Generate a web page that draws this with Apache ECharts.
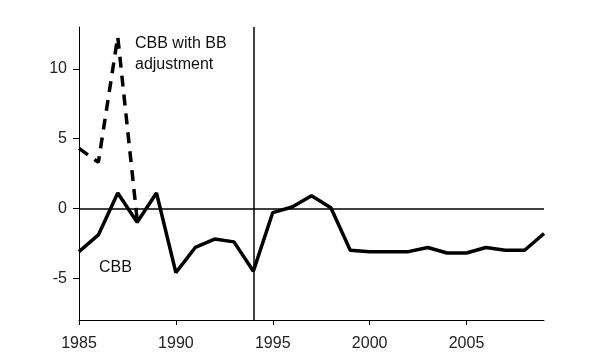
<!DOCTYPE html>
<html>
<head>
<meta charset="utf-8">
<script src="https://cdn.jsdelivr.net/npm/echarts@6/dist/echarts.min.js"></script>
<style>html,body{margin:0;padding:0;background:#fff;}#c{width:600px;height:360px;}</style>
</head>
<body>
<div id="c"></div>
<script>
const years = [1985,1986,1987,1988,1989,1990,1991,1992,1993,1994,1995,1996,1997,1998,1999,2000,2001,2002,2003,2004,2005,2006,2007,2008,2009];
const cbb = [-3.1,-1.9,1.1,-1.0,1.1,-4.6,-2.8,-2.2,-2.4,-4.5,-0.3,0.1,0.9,0.05,-3.0,-3.1,-3.1,-3.1,-2.8,-3.2,-3.2,-2.8,-3.0,-3.0,-1.8];
const cbbAdjYears = [1985,1986,1987,1988];
const cbbAdj = [4.3,3.3,12.3,-0.8];
const xTicks = [1985,1990,1995,2000,2005];
const yTicks = [-5,0,5,10];
const markYear = 1994;
const labelAdj = ['CBB with BB','adjustment'];
const labelCbb = 'CBB';

const chart = echarts.init(document.getElementById('c'), null, {renderer:'canvas'});
const font = 'Liberation Sans, Arial, sans-serif';
chart.setOption({
  animation:false,
  backgroundColor:'#fff',
  grid:{left:79,right:56,top:27,bottom:40,containLabel:false},
  xAxis:{
    type:'value', min:1985, max:2009,
    axisLine:{show:true,onZero:false,lineStyle:{color:'#000',width:1}},
    axisTick:{show:true,length:5,inside:false,customValues:xTicks,lineStyle:{color:'#000'}},
    axisLabel:{customValues:xTicks,color:'#222',fontSize:16,fontFamily:font,margin:16,formatter:v=>String(v)},
    splitLine:{show:false}
  },
  yAxis:{
    type:'value', min:-8, max:13,
    axisLine:{show:true,onZero:false,lineStyle:{color:'#000',width:1}},
    axisTick:{show:true,length:6,customValues:yTicks,lineStyle:{color:'#000'}},
    axisLabel:{customValues:yTicks,color:'#222',fontSize:16,fontFamily:font,margin:12},
    splitLine:{show:false}
  },
  series:[
    {
      type:'line', data:years.map((y,i)=>[y,cbb[i]]), showSymbol:false, symbol:'none',
      lineStyle:{color:'#000',width:3.5}, z:3,
      markLine:{silent:true,symbol:'none',label:{show:false},animation:false,
        lineStyle:{color:'#000',width:1.5,type:'solid'},
        data:[{yAxis:0},{xAxis:markYear}]}
    },
    {
      type:'line', data:cbbAdjYears.map((y,i)=>[y,cbbAdj[i]]), showSymbol:false, symbol:'none',
      lineStyle:{color:'#000',width:3.5,type:[11,8]}, z:4
    }
  ],
  graphic:[
    {type:'text',left:135,top:33,style:{text:labelAdj.join('\n'),font:'16px '+font,fill:'#111',lineHeight:21}},
    {type:'text',left:99,top:260,style:{text:labelCbb,font:'16px '+font,fill:'#111'}}
  ]
});
</script>
</body>
</html>
